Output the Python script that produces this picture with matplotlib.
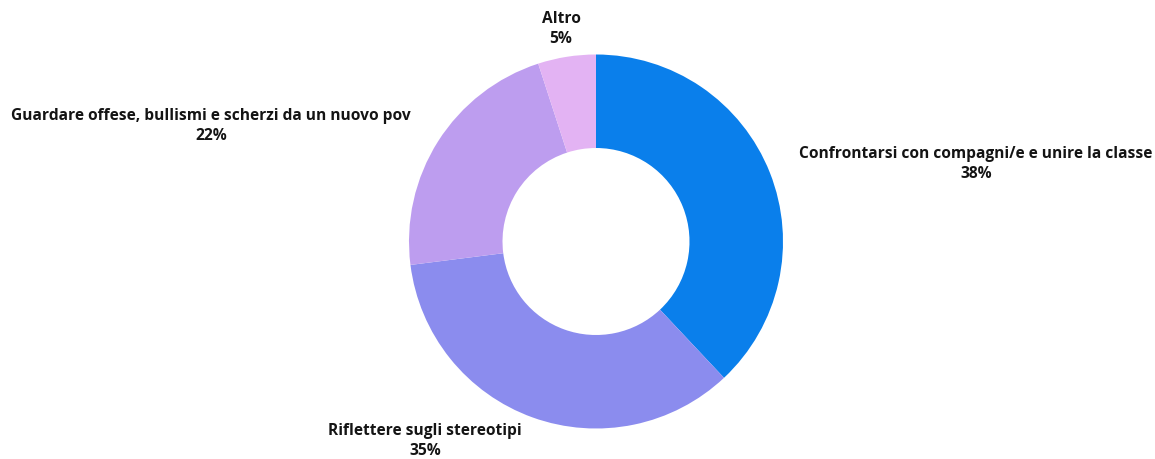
import numpy as np
import matplotlib.pyplot as plt

# share of answers per topic
labels = ["Confrontarsi con compagni/e e unire la classe",
          "Riflettere sugli stereotipi",
          "Guardare offese, bullismi e scherzi da un nuovo pov",
          "Altro"]
values = [38, 35, 22, 5]
colors = ["#0A7FEB", "#8B8CEE", "#BD9DEF", "#E3B3F3"]

W, H = 1155, 459
fig = plt.figure(figsize=(W / 100, H / 100), dpi=100)
ax = fig.add_axes([0, 0, 1, 1])

cx, cy = 596, H - 241.5
R = 187
ax.pie(values, colors=colors, startangle=90, counterclock=False,
       center=(cx, cy), radius=R,
       wedgeprops=dict(width=R * 0.5, linewidth=0))

ax.set_xlim(0, W)
ax.set_ylim(0, H)
ax.set_aspect("equal")
ax.axis("off")

# label anchor points (pixel coords, top-down)
label_pos = [(976, 164), (425, 441), (211, 126), (561, 29)]
for lab, v, (x, y) in zip(labels, values, label_pos):
    ax.text(x, H - y, f"{lab}\n{v}%", ha="center", va="center",
            fontsize=11.2, fontweight="bold", family="Open Sans",
            color="#141414", linespacing=1.3)

fig.savefig("out.png", dpi=100)
